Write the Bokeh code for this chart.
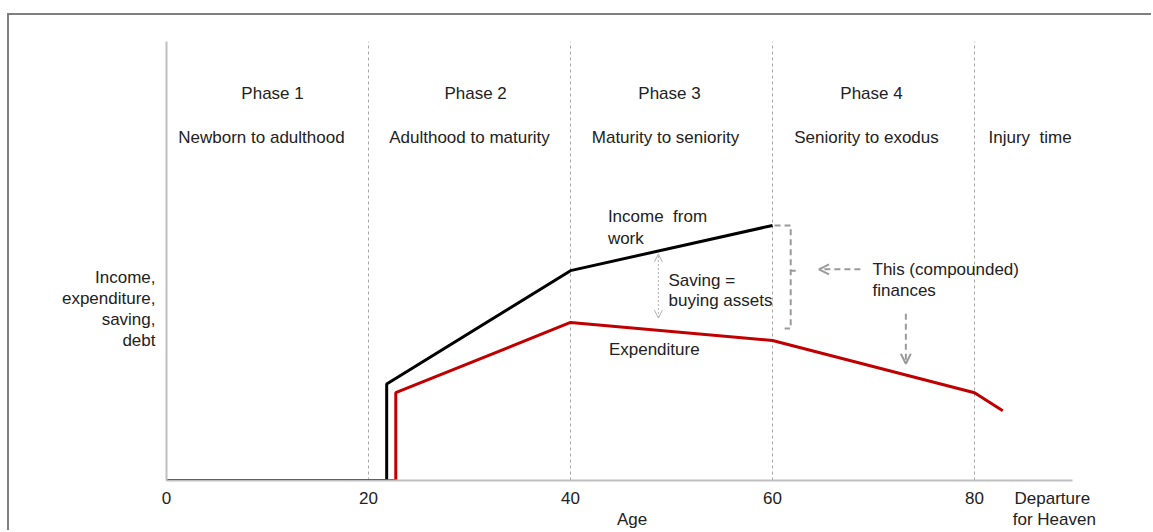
from bokeh.plotting import figure
from bokeh.models import Range1d, FixedTicker, LinearAxis, Arrow, OpenHead
from bokeh.embed import file_html
from bokeh.resources import INLINE
from bokeh.core.properties import value

# ---- data ----
age_income = [0, 21.8, 21.8, 40, 60]
income = [0, 0, 22, 47.8, 58.1]
age_exp = [0, 22.7, 22.7, 40, 60, 80, 82.8]
expenditure = [0, 0, 20, 36, 31.9, 20, 15.9]

phase_bounds = [20, 40, 60, 80]
x_ticks = [0, 20, 40, 60, 80]

phase_titles = ["Phase 1", "Phase 2", "Phase 3", "Phase 4"]
phase_title_x = [10.5, 30.6, 49.8, 69.8]
phase_names = ["Newborn to adulthood", "Adulthood to maturity", "Maturity to seniority",
               "Seniority to exodus", "Injury\u00a0\u00a0time"]
phase_name_x = [9.4, 30.0, 49.4, 69.3, 85.5]

note_text = ["Income\u00a0\u00a0from", "work", "Saving =", "buying assets", "Expenditure",
             "This (compounded)", "finances"]
note_x = [43.7, 43.7, 49.7, 49.7, 43.8, 69.9, 69.9]
note_y = [60.2, 55.2, 45.6, 41.0, 29.9, 48.1, 43.3]

ylabel_lines = ["Income,", "expenditure,", "saving,", "debt"]
ylabel_y = [46.2, 41.5, 36.7, 31.9]

end_label_x = 87.7
end_label_top = "Departure"
end_label_bottom = "for Heaven"
end_label_bottom_x = 87.9
age_label_x = 46.1
age_label = "Age"

bracket_x = [60.2, 61.8, 61.8, 61.2]
bracket_y = [58.1, 58.1, 34.6, 34.6]

FONT = "Liberation Sans"
TXT = "#222222"
FS = "17px"

p = figure(width=1144, height=517, x_range=Range1d(0, 89.7), y_range=Range1d(0, 100),
           output_backend="svg", toolbar_location=None,
           min_border_left=157, min_border_right=81, min_border_top=26, min_border_bottom=52,
           margin=(13, 0, 0, 7),
           styles={"border-left": "2px solid #7f7f7f", "border-top": "2px solid #7f7f7f"})
p.outline_line_color = None
p.xgrid.visible = False
p.ygrid.visible = False

# x axis: ages + "Departure"
p.xaxis.ticker = FixedTicker(ticks=x_ticks + [end_label_x])
p.xaxis.major_label_overrides = {end_label_x: end_label_top}
p.xaxis.axis_line_color = "#bfbfbf"
p.xaxis.axis_line_width = 2
p.xaxis.major_tick_line_color = None
p.xaxis.minor_tick_line_color = None
p.xaxis.major_label_text_font = FONT
p.xaxis.major_label_text_font_size = FS
p.xaxis.major_label_text_color = TXT
p.xaxis.major_label_standoff = 2

# second row below the axis: "Age" and "for Heaven"
ax2 = LinearAxis(ticker=FixedTicker(ticks=[age_label_x, end_label_bottom_x]),
                 major_label_overrides={age_label_x: age_label, end_label_bottom_x: end_label_bottom},
                 axis_line_color=None, major_tick_line_color=None, minor_tick_line_color=None,
                 major_label_text_font=FONT, major_label_text_font_size=FS,
                 major_label_text_color=TXT, major_label_standoff=-7)
p.add_layout(ax2, "below")

# y axis: line + horizontal multi-row title as tick labels
p.yaxis.ticker = FixedTicker(ticks=ylabel_y)
p.yaxis.major_label_overrides = dict(zip(ylabel_y, ylabel_lines))
p.yaxis.axis_line_color = "#bfbfbf"
p.yaxis.axis_line_width = 2
p.yaxis.major_tick_line_color = None
p.yaxis.minor_tick_line_color = None
p.yaxis.major_label_text_font = FONT
p.yaxis.major_label_text_font_size = FS
p.yaxis.major_label_text_color = TXT
p.yaxis.major_label_standoff = 5

# phase boundaries
p.segment(x0=phase_bounds, y0=[0] * len(phase_bounds), x1=phase_bounds, y1=[100] * len(phase_bounds),
          line_color="#a6a6a6", line_width=1, line_dash="3 3")

# series
p.line(age_exp, expenditure, line_color="#c00000", line_width=3)
p.line(age_income, income, line_color="#000000", line_width=3)

# phase labels
p.text(x=phase_title_x, y=[88.2] * len(phase_title_x), text=phase_titles,
       text_font=value(FONT), text_font_size=FS, text_color=TXT,
       text_align="center", text_baseline="middle")
p.text(x=phase_name_x, y=[78.1] * len(phase_name_x), text=phase_names,
       text_font=value(FONT), text_font_size=FS, text_color=TXT,
       text_align="center", text_baseline="middle")

# notes
p.text(x=note_x, y=note_y, text=note_text,
       text_font=value(FONT), text_font_size=FS, text_color=TXT,
       text_align="left", text_baseline="middle")

# bracket
p.line(bracket_x, bracket_y, line_color="#9a9a9a", line_width=2, line_dash="6 4")
p.segment(x0=[61.8], y0=[47.8], x1=[62.3], y1=[47.8], line_color="#9a9a9a", line_width=2)

# arrows
p.add_layout(Arrow(x_start=48.7, y_start=37.0, x_end=48.7, y_end=51.6,
                   start=OpenHead(size=8, line_color="#b0b0b0", line_width=1),
                   end=OpenHead(size=8, line_color="#b0b0b0", line_width=1),
                   line_color="#b0b0b0", line_width=1, line_dash="2 2"))
p.add_layout(Arrow(x_start=68.7, y_start=48.1, x_end=64.6, y_end=48.1,
                   end=OpenHead(size=10, line_color="#9a9a9a", line_width=2),
                   line_color="#9a9a9a", line_width=2, line_dash="6 4"))
p.add_layout(Arrow(x_start=73.2, y_start=38.0, x_end=73.2, y_end=26.6,
                   end=OpenHead(size=10, line_color="#9a9a9a", line_width=2),
                   line_color="#9a9a9a", line_width=2, line_dash="6 4"))

open("out.html", "w").write(file_html(p, INLINE))
